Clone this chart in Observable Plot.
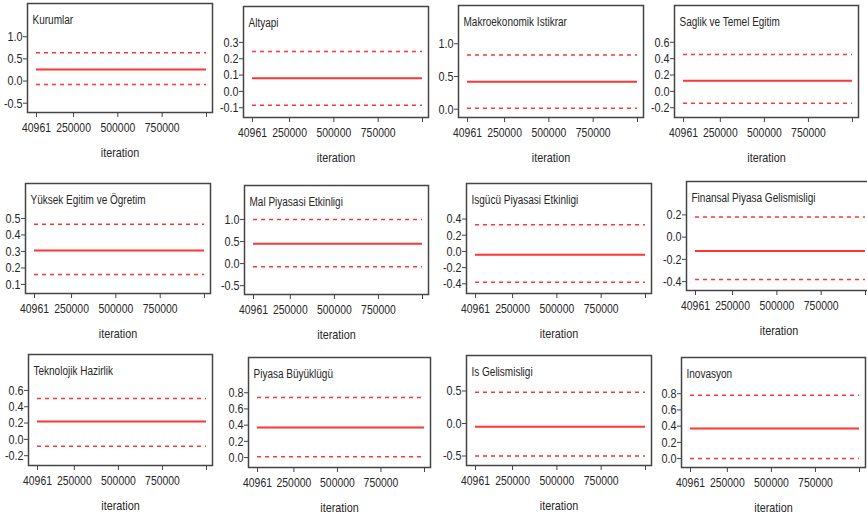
<!DOCTYPE html>
<html>
<head>
<meta charset="utf-8">
<script src="https://cdn.jsdelivr.net/npm/d3@7"></script>
<script src="https://cdn.jsdelivr.net/npm/@observablehq/plot@0.6"></script>
<style>
  html, body { margin: 0; padding: 0; background: #fff; overflow: hidden; }
  #chart { position: relative; width: 867px; height: 517px; overflow: hidden; background: #fff; }
  #chart svg { position: absolute; }
</style>
</head>
<body>
<div id="chart"></div>
<script>
// ---- data ----
const panels = ["Kurumlar", "Altyapi", "Makroekonomik Istikrar", "Saglik ve Temel Egitim",
  "Yüksek Egitim ve Ögretim", "Mal Piyasasi Etkinligi", "Isgücü Piyasasi Etkinligi", "Finansal Piyasa Gelismisligi",
  "Teknolojik Hazirlik", "Piyasa Büyüklügü", "Is Gelismisligi", "Inovasyon"];
const means  = [0.26, 0.08, 0.42, 0.13, 0.305, 0.45, -0.04, -0.125, 0.22, 0.37, -0.05, 0.37];
const lowers = [-0.08, -0.085, 0.015, -0.145, 0.16, -0.07, -0.38, -0.38, -0.085, 0.01, -0.5, 0.0];
const uppers = [0.64, 0.245, 0.83, 0.45, 0.465, 1.0, 0.33, 0.18, 0.5, 0.74, 0.48, 0.78];
const yDomains = [[-0.71, 1.75], [-0.16, 0.52], [-0.127, 1.585], [-0.32, 1.05],
  [0.045, 0.712], [-0.70, 1.77], [-0.52, 0.84], [-0.48, 0.50],
  [-0.32, 1.04], [-0.123, 1.235], [-0.646, 1.046], [-0.11, 1.247]];
const yTicks = [[1.0, 0.5, 0.0, -0.5], [0.3, 0.2, 0.1, 0.0, -0.1], [1.0, 0.5, 0.0], [0.6, 0.4, 0.2, 0.0, -0.2],
  [0.5, 0.4, 0.3, 0.2, 0.1], [1.0, 0.5, 0.0, -0.5], [0.4, 0.2, 0.0, -0.2, -0.4], [0.2, 0.0, -0.2, -0.4],
  [0.6, 0.4, 0.2, 0.0, -0.2], [0.8, 0.6, 0.4, 0.2, 0.0], [0.5, 0.0, -0.5], [0.8, 0.6, 0.4, 0.2, 0.0]];
const iterStart = 40961;
const iterEnd = 1000000;
const xTickValues = [40961, 250000, 500000, 750000, 1000000];
const xTickLabels = ["40961", "250000", "500000", "750000", ""];
const xLabel = "iteration";

// ---- layout (frame boxes in page pixels: left, top, right, bottom) ----
const frames = [
  [27, 3, 212, 112], [243, 6, 428, 117], [458, 5, 643, 117], [674, 5, 858, 117],
  [25, 183, 210, 293], [244, 185, 428, 294], [466, 183, 651, 293], [686, 181, 871, 290],
  [28, 354, 212, 465], [248, 357, 430, 467], [466, 355, 651, 465], [681, 357, 865, 467]
];

const FONT = "'Liberation Sans Narrow', 'Arial Narrow', 'Liberation Sans', Arial, sans-serif";
const RED = "#ff3535";
const INK = "#262626";
const NARROW = 0.8; // horizontal condensing to imitate a narrow face
const ML = 40, MR = 2, MT = 2, MB = 56;
const chart = document.getElementById("chart");

panels.forEach((title, i) => {
  const [L, T, R, B] = frames[i];
  const w = (R - L) + ML + MR;
  const h = (B - T) + MT + MB;
  const svg = Plot.plot({
    width: w, height: h,
    marginLeft: ML, marginRight: MR, marginTop: MT, marginBottom: MB,
    style: { fontFamily: FONT, fontSize: "13.5px", color: INK, background: "transparent", overflow: "visible" },
    x: { domain: [iterStart, iterEnd], insetLeft: 9, insetRight: 6 },
    y: { domain: yDomains[i] },
    marks: [
      Plot.ruleY([uppers[i], lowers[i]], { y: d => d, x1: iterStart, x2: iterEnd, stroke: RED, strokeWidth: 1.5, strokeDasharray: "4,4" }),
      Plot.ruleY([means[i]], { y: d => d, x1: iterStart, x2: iterEnd, stroke: RED, strokeWidth: 2 }),
      Plot.frame({ stroke: "#444", strokeWidth: 1.5 }),
      Plot.axisY({ ticks: yTicks[i], tickSize: 4, tickPadding: 1, tickFormat: d => d.toFixed(1), label: null, stroke: "#444" }),
      Plot.axisX({ ticks: xTickValues, tickSize: 5, tickPadding: 5, fontSize: 13, tickFormat: d => xTickLabels[xTickValues.indexOf(d)], label: null, stroke: "#444" }),
      Plot.text([title], { text: d => d, frameAnchor: "top-left", dx: 5, dy: 12, textAnchor: "start", fontSize: 12.5, fill: INK }),
      Plot.text([xLabel], { text: d => d, frameAnchor: "bottom", dy: 44, fontSize: 13.5, fill: INK })
    ]
  });
  svg.style.left = (L - ML) + "px";
  svg.style.top = (T - MT) + "px";
  chart.appendChild(svg);
  svg.querySelectorAll("text").forEach(t => {
    const len = t.getComputedTextLength();
    if (len > 0) {
      t.setAttribute("textLength", (len * NARROW).toFixed(2));
      t.setAttribute("lengthAdjust", "spacingAndGlyphs");
    }
  });
});
</script>
</body>
</html>
